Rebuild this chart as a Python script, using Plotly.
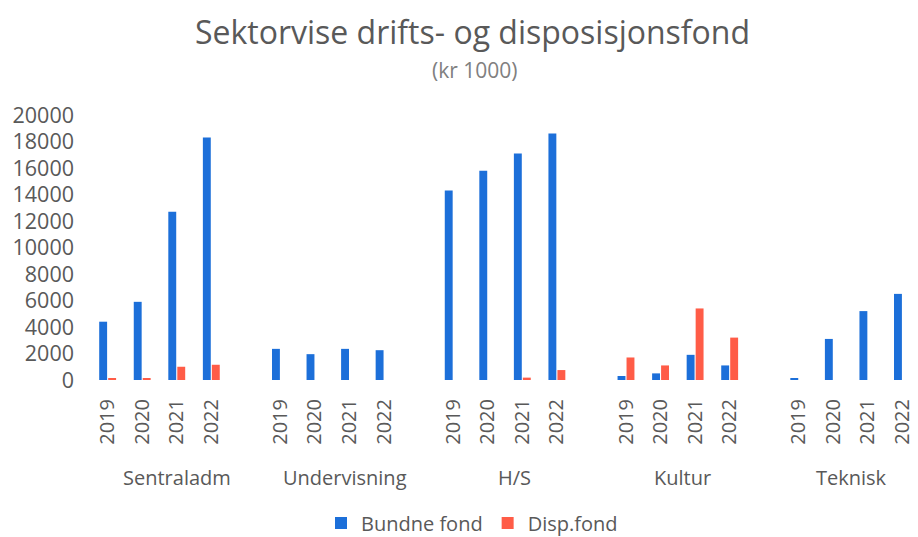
import plotly.graph_objects as go

sectors = ["Sentraladm", "Undervisning", "H/S", "Kultur", "Teknisk"]
years = ["2019", "2020", "2021", "2022"]

bundne_fond = [
    [4400, 5900, 12700, 18300],   # Sentraladm
    [2350, 1950, 2350, 2250],     # Undervisning
    [14300, 15800, 17100, 18600], # H/S
    [300, 500, 1900, 1100],       # Kultur
    [150, 3100, 5200, 6500],      # Teknisk
]
disp_fond = [
    [100, 80, 1000, 1150],
    [0, 0, 0, 0],
    [0, 0, 180, 750],
    [1700, 1100, 5400, 3200],
    [0, 0, 0, 0],
]

GAP_SLOTS = 1  # empty slot between sector groups
slots_per_group = len(years) + GAP_SLOTS

xpos, xlabels, blue_vals, red_vals = [], [], [], []
for g, sec in enumerate(sectors):
    for i, yr in enumerate(years):
        xpos.append(g * slots_per_group + i)
        xlabels.append(yr)
        blue_vals.append(bundne_fond[g][i])
        red_vals.append(disp_fond[g][i])

BLUE = "#1c6fd9"
RED = "#ff5c47"
GRAY = "#595959"
FONT = "Open Sans"

W, H = 910, 529
L, R, T, B = 72, 0, 107, 157
PW = W - L - R
PH = H - T - B

fig = go.Figure()
fig.add_trace(go.Bar(x=xpos, y=blue_vals, name="Bundne fond", marker_color=BLUE, marker_line_width=0))
fig.add_trace(go.Bar(x=xpos, y=red_vals, name="Disp.fond", marker_color=RED, marker_line_width=0))

annotations = []
for g, sec in enumerate(sectors):
    center = 2.0 + g * (slots_per_group - 0.12)
    annotations.append(dict(x=center, y=(H - B - 469) / PH, xref="x", yref="paper", text=sec,
                            showarrow=False, font=dict(size=20, color=GRAY, family=FONT),
                            xanchor="center", yanchor="middle"))
annotations.append(dict(x=(467 - L) / PW, y=(H - B - 62) / PH, xref="paper", yref="paper",
                        text="(kr 1000)", showarrow=False,
                        font=dict(size=21, color="#808080", family=FONT),
                        xanchor="center", yanchor="middle"))

fig.update_layout(
    width=W, height=H,
    margin=dict(l=L, r=R, t=T, b=B, autoexpand=False),
    paper_bgcolor="white", plot_bgcolor="white",
    barmode="group", bargap=0.48, bargroupgap=0.12,
    title=dict(text="Sektorvise drifts- og disposisjonsfond", x=464.5 / W, xref="container",
               y=1 - 25 / H, yref="container", xanchor="center", yanchor="middle",
               font=dict(size=32, color=GRAY, family=FONT)),
    font=dict(family=FONT, color=GRAY),
    xaxis=dict(range=[-0.8, 23.45], tickmode="array", tickvals=xpos, ticktext=xlabels,
               tickangle=-90, tickfont=dict(size=20, color=GRAY, family=FONT),
               showgrid=False, zeroline=False, showline=False, ticks="",
               automargin=False, ticklabelstandoff=14, ticklabeloverflow="allow"),
    yaxis=dict(range=[0, 20000], tickmode="linear", tick0=0, dtick=2000, tickformat="d",
               tickfont=dict(size=21.5, color=GRAY, family=FONT),
               showgrid=False, zeroline=False, showline=False, ticks="",
               automargin=False, ticklabelstandoff=5),
    legend=dict(orientation="h", x=(464 - L) / PW, xanchor="center", y=(H - B - 515) / PH,
                yanchor="middle",
                font=dict(size=20, color=GRAY, family=FONT), itemsizing="constant",
                itemwidth=30, tracegroupgap=0),
    annotations=annotations,
    showlegend=True,
)

fig.write_html("out.html")
